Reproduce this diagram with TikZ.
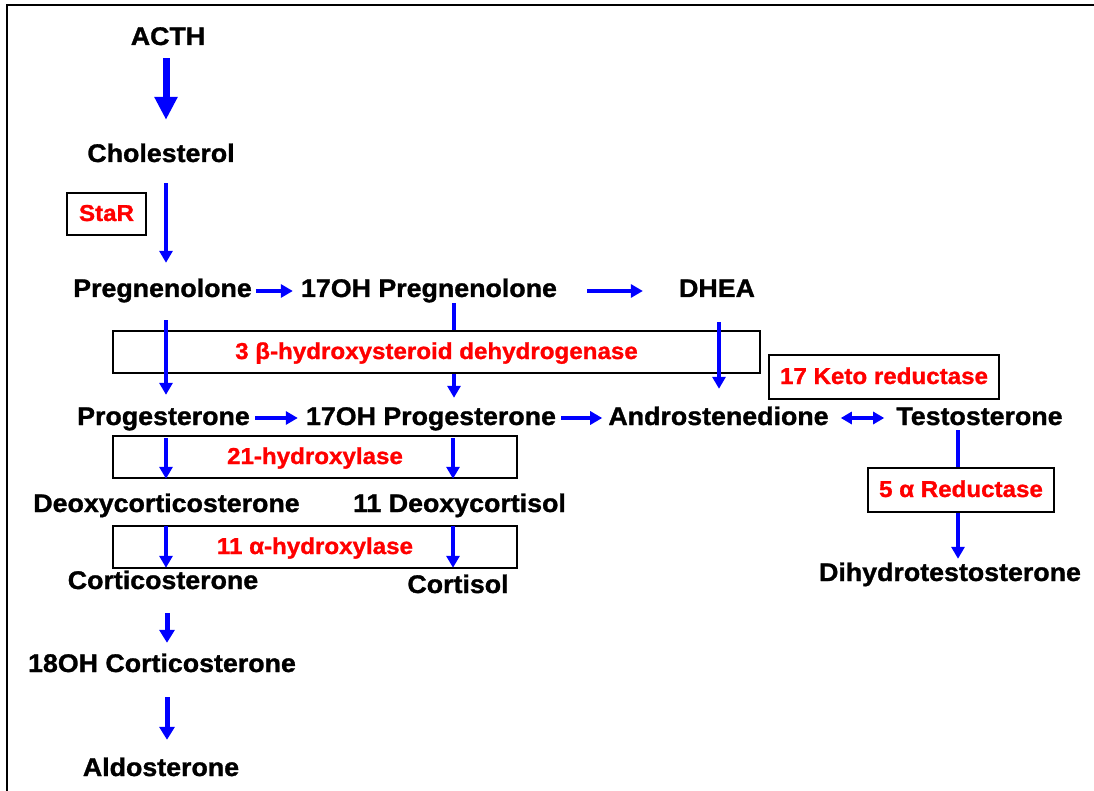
\documentclass[tikz,border=0pt]{standalone}
\usepackage{fontspec}
\setmainfont{Liberation Sans}[FakeStretch=1.05, BoldFeatures={FakeBold=1.2}]
\usetikzlibrary{arrows.meta}
\begin{document}
\begin{tikzpicture}[x=1pt,y=-1pt,
  lab/.style={font=\fontsize{25.5}{30}\selectfont\bfseries, inner sep=0pt, text height=18pt, text depth=5pt, anchor=base},
  enz/.style={draw=black, line width=1.4pt, fill=white, font=\fontsize{23}{28}\selectfont\bfseries, text=red, inner sep=0pt, text height=17pt, text depth=3pt},
  arr/.style={draw=blue, line width=3.5pt, -{Triangle[width=13pt,length=12pt]}},
  arrmid/.style={draw=blue, line width=5pt, -{Triangle[width=15pt,length=13pt]}},
  arrbig/.style={draw=blue, line width=7pt, -{Triangle[width=22pt,length=23pt]}},
  arrboth/.style={draw=blue, line width=3.5pt, {Triangle[width=12pt,length=11pt]}-{Triangle[width=12pt,length=11pt]}}
]
\useasboundingbox (0,0) rectangle (1094,791);
\fill[white] (0,0) rectangle (1094,791);
\draw[line width=2pt] (7,791) -- (7,5) -- (1094,5);

% columns
\coordinate (cA) at (166,0);
\coordinate (cA2) at (167,0);
\coordinate (cB) at (454,0);
\coordinate (cB2) at (453,0);
\coordinate (cC) at (719,0);
\coordinate (cD) at (958,0);

% compounds
\node[lab] (acth) at (168,45) {ACTH};
\node[lab] (chol) at (161,162) {Cholesterol};
\node[lab] (preg) at (162.5,297) {Pregnenolone};
\node[lab] (ohpreg) at (429,297) {17OH Pregnenolone};
\node[lab] (dhea) at (717,297) {DHEA};
\node[lab] (prog) at (163.5,425) {Progesterone};
\node[lab] (ohprog) at (431,425) {17OH Progesterone};
\node[lab] (andro) at (718.5,425) {Androstenedione};
\node[lab] (testo) at (979.5,425) {Testosterone};
\node[lab] (doc) at (166.5,512) {Deoxycorticosterone};
\node[lab] (dcortisol) at (459.5,512) {11 Deoxycortisol};
\node[lab] (cortico) at (163,589) {Corticosterone};
\node[lab] (cortisol) at (458,593) {Cortisol};
\node[lab] (ohcortico) at (162,672) {18OH Corticosterone};
\node[lab] (aldo) at (161,776) {Aldosterone};
\node[lab] (dht) at (950,581) {Dihydrotestosterone};

% arrows hidden behind boxes
\draw[arr, shorten <=1pt, shorten >=9pt] (ohpreg.south -| cB) -- (ohprog.north -| cB);
\draw[arr, shorten <=0pt, shorten >=4pt] (testo.south -| cD) -- (dht.north -| cD);

% enzyme boxes
\node[enz, minimum width=79pt, minimum height=42pt] (star) at (106.5,214) {StaR};
\node[enz, minimum width=647pt, minimum height=42pt] (hsd) at (436.5,352) {3 β-hydroxysteroid dehydrogenase};
\node[enz, minimum width=404pt, minimum height=42pt] (h21) at (315,457) {21-hydroxylase};
\node[enz, minimum width=404pt, minimum height=42pt] (h11) at (315,547) {11 α-hydroxylase};
\node[enz, minimum width=230pt, minimum height=44pt] (keto) at (884,377) {17 Keto reductase};
\node[enz, minimum width=186pt, minimum height=44pt] (red5) at (961,490) {5 α Reductase};

% vertical arrows
\draw[arrbig, shorten <=8pt, shorten >=24pt] (acth.south -| cA) -- (chol.north -| cA);
\draw[arr, shorten <=16pt, shorten >=16pt] (chol.south -| cA) -- (preg.north -| cA);
\draw[arr, shorten <=18pt, shorten >=12pt] (preg.south -| cA) -- (prog.north -| cA);
\draw[arr, shorten <=20pt, shorten >=18pt] (dhea.south -| cC) -- (andro.north -| cC);
\draw[arr, shorten <=8pt, shorten >=15pt] (prog.south -| cA) -- (doc.north -| cA);
\draw[arr, shorten <=8pt, shorten >=15pt] (ohprog.south -| cB2) -- (dcortisol.north -| cB2);
\draw[arr, shorten <=9pt, shorten >=3pt] (doc.south -| cA) -- (cortico.north -| cA);
\draw[arr, shorten <=9pt, shorten >=7pt] (dcortisol.south -| cB2) -- (cortisol.north -| cB2);
\draw[arrmid, shorten <=19pt, shorten >=11pt] (cortico.south -| cA2) -- (ohcortico.north -| cA2);
\draw[arrmid, shorten <=20pt, shorten >=18pt] (ohcortico.south -| cA2) -- (aldo.north -| cA2);

% horizontal arrows
\draw[arr, shorten <=4pt, shorten >=8pt] ([yshift=6pt]preg.base east) -- ([yshift=6pt]ohpreg.base west);
\draw[arr, shorten <=30pt, shorten >=36pt] ([yshift=6pt]ohpreg.base east) -- ([yshift=6pt]dhea.base west);
\draw[arr, shorten <=5pt, shorten >=8pt] ([yshift=7pt]prog.base east) -- ([yshift=7pt]ohprog.base west);
\draw[arr, shorten <=5pt, shorten >=6pt] ([yshift=7pt]ohprog.base east) -- ([yshift=7pt]andro.base west);
\draw[arrboth, shorten <=12pt, shorten >=12pt] ([yshift=7pt]andro.base east) -- ([yshift=7pt]testo.base west);
\end{tikzpicture}
\end{document}
